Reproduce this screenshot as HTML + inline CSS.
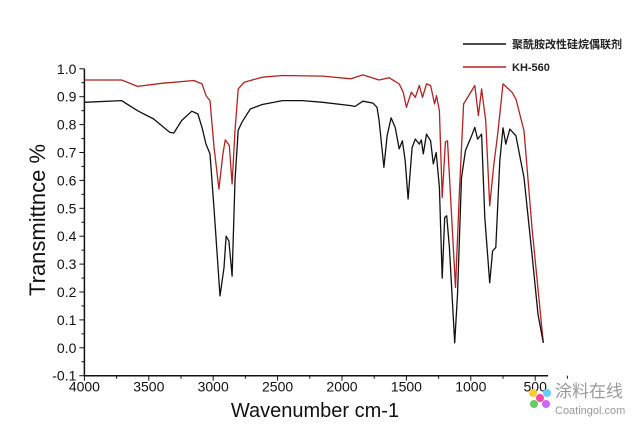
<!DOCTYPE html>
<html><head><meta charset="utf-8"><style>
body{margin:0;background:#fff;}
svg text{font-family:"Liberation Sans","Noto Sans CJK SC",sans-serif;}
</style></head><body>
<svg width="636" height="430" viewBox="0 0 636 430" xmlns="http://www.w3.org/2000/svg">
<g id="axes"></g>
<g id="series"></g>
<g>
<line x1="463" y1="44" x2="506" y2="44" stroke="#111" stroke-width="1.5"/>
<text x="512" y="48" font-size="11" font-weight="bold" fill="#222">聚酰胺改性硅烷偶联剂</text>
<line x1="463" y1="67" x2="506" y2="67" stroke="#b22" stroke-width="1.5"/>
<text x="512" y="71" font-size="11" font-weight="bold" fill="#222">KH-560</text>
</g>
<text transform="translate(45,220) rotate(-90)" text-anchor="middle" font-size="22" fill="#111">Transmittnce %</text>
<text x="315" y="417" text-anchor="middle" font-size="20" fill="#111">Wavenumber cm-1</text>
<g>
<circle cx="540" cy="398" r="4" fill="#f4a"/><circle cx="533" cy="393" r="4" fill="#fc3"/><circle cx="547" cy="393" r="4" fill="#6cf"/><circle cx="534" cy="404" r="4" fill="#6c6"/><circle cx="546" cy="404" r="4" fill="#c6f"/>
<text x="555" y="397" font-size="17" fill="#999">涂料在线</text>
<text x="555" y="414" font-size="11" fill="#999">Coatingol.com</text>
</g>
</svg>
<script>
const xTicks=[4000,3500,3000,2500,2000,1500,1000,500];
const yTicks=[-0.1,0,0.1,0.2,0.3,0.4,0.5,0.6,0.7,0.8,0.9,1.0];
const blackW=[4000,3712,3588,3462,3337,3306,3244,3166,3119,3087,3056,3025,2994,2947,2916,2900,2878,2853,2831,2806,2775,2712,2619,2462,2306,2150,1931,1900,1838,1760,1728,1712,1675,1650,1619,1587,1556,1531,1509,1487,1456,1431,1400,1384,1369,1344,1312,1291,1269,1244,1222,1203,1187,1166,1125,1103,1072,1041,994,969,947,916,891,853,831,806,775,750,728,697,650,587,525,478,437];
const blackT=[0.88,0.886,0.85,0.82,0.772,0.77,0.815,0.848,0.838,0.79,0.73,0.695,0.50,0.186,0.287,0.40,0.383,0.257,0.60,0.78,0.81,0.856,0.872,0.886,0.886,0.88,0.868,0.865,0.884,0.877,0.862,0.815,0.647,0.76,0.824,0.79,0.713,0.742,0.67,0.533,0.718,0.748,0.73,0.745,0.695,0.766,0.742,0.659,0.70,0.575,0.25,0.467,0.473,0.36,0.018,0.19,0.61,0.707,0.76,0.79,0.748,0.766,0.467,0.233,0.347,0.36,0.67,0.788,0.73,0.784,0.76,0.61,0.335,0.12,0.018];
const redW=[4000,3712,3588,3400,3150,3087,3056,3025,2994,2956,2925,2906,2875,2853,2831,2806,2759,2619,2462,2150,1931,1838,1712,1634,1556,1525,1500,1462,1431,1400,1375,1344,1312,1281,1266,1244,1222,1197,1181,1119,1087,1056,969,941,916,884,853,822,791,750,681,650,587,525,437];
const redT=[0.96,0.96,0.937,0.948,0.958,0.946,0.904,0.886,0.72,0.569,0.695,0.745,0.725,0.587,0.778,0.928,0.952,0.97,0.976,0.974,0.964,0.978,0.96,0.968,0.946,0.916,0.862,0.916,0.898,0.94,0.898,0.946,0.94,0.874,0.904,0.85,0.539,0.737,0.742,0.216,0.575,0.874,0.94,0.832,0.928,0.815,0.509,0.653,0.766,0.946,0.916,0.892,0.778,0.43,0.018];
const NS="http://www.w3.org/2000/svg";
const X=w=>84.4+(4000-w)*0.1288;
const Y=v=>347.8-v*279;
function mk(tag,attrs,parent){const e=document.createElementNS(NS,tag);for(const k in attrs)e.setAttribute(k,attrs[k]);parent.appendChild(e);return e;}
const ax=document.getElementById('axes');
let e=mk('line',{x1:X(4000),y1:Y(-0.1),x2:X(400),y2:Y(-0.1),stroke:'#111','stroke-width':1.5},ax);


e=mk('line',{x1:X(4000),y1:Y(-0.1),x2:X(4000),y2:Y(1.0),stroke:'#111','stroke-width':1.5},ax);


xTicks.forEach(t=>{
 e=mk('line',{x1:X(t),y1:Y(-0.1),x2:X(t),y2:Y(-0.1)+5,stroke:'#111'},ax);
 
 
 e=mk('line',{x1:X(t-250),y1:Y(-0.1),x2:X(t-250),y2:Y(-0.1)+3,stroke:'#111'},ax);
 
 
 e=mk('text',{x:X(t),y:Y(-0.1)+16,'text-anchor':'middle','font-size':14,fill:'#111'},ax);
 e.textContent=t;
 
 
});
yTicks.forEach(t=>{
 e=mk('line',{x1:X(4000)-5,y1:Y(t),x2:X(4000),y2:Y(t),stroke:'#111'},ax);
 
 
 if(t<1){e=mk('line',{x1:X(4000)-3,y1:Y(t+0.05),x2:X(4000),y2:Y(t+0.05),stroke:'#111'},ax);
 
 }
 e=mk('text',{x:X(4000)-8,y:Y(t)+5,'text-anchor':'end','font-size':14,fill:'#111'},ax);
 e.textContent=t.toFixed(1);
 
 
});
const sg=document.getElementById('series');
function line(W,T,col,name){
 const d=W.map((w,i)=>(i?'L':'M')+X(w).toFixed(1)+','+Y(T[i]).toFixed(1)).join('');
 const p=mk('path',{d:d,fill:'none',stroke:col,'stroke-width':1.3,'stroke-linejoin':'round'},sg);
 
 
}
line(redW,redT,'#b22222','kh560-line');
line(blackW,blackT,'#111','modified-silane-line');
</script>
</body></html>
